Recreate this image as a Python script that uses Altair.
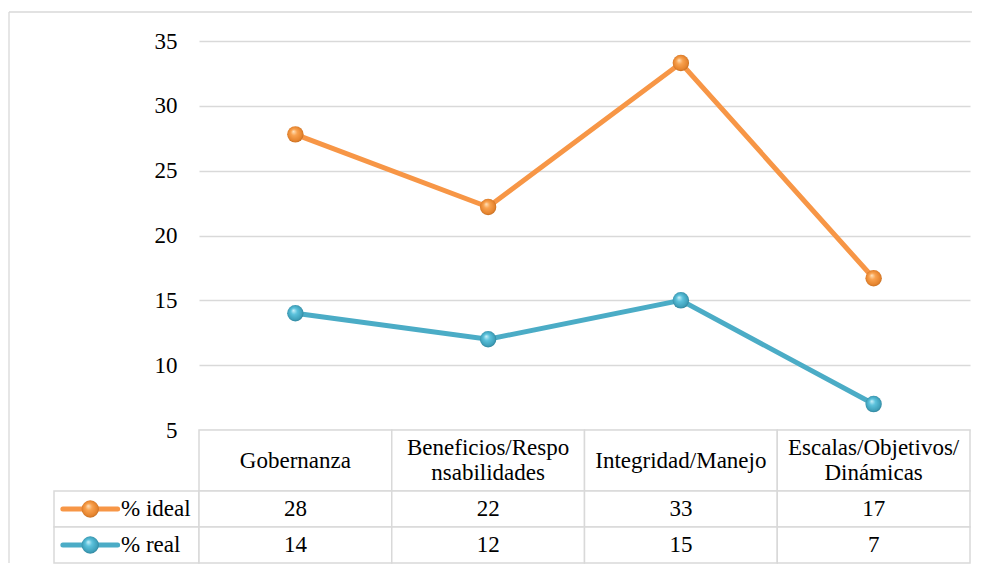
import altair as alt
import pandas as pd

# ---------------- data ----------------
categories = ["Gobernanza", "Beneficios/Responsabilidades", "Integridad/Manejo",
              "Escalas/Objetivos/Dinámicas"]
header_labels = ["Gobernanza", "Beneficios/Respo\nnsabilidades", "Integridad/Manejo",
                 "Escalas/Objetivos/\nDinámicas"]
series_names = ["% ideal", "% real"]
ideal_values = [27.8, 22.2, 33.3, 16.7]
real_values = [14, 12, 15, 7]
y_ticks = [5, 10, 15, 20, 25, 30, 35]
series_colors = ["#F79646", "#4BACC6"]
key_parts = ["key", "label"]

# ---------------- style ----------------
FONT = "Times New Roman, Liberation Serif, DejaVu Serif, serif"
FS = 23
GRID = "#D9D9D9"
PLOT_W, COL0_W = 771, 145
PLOT_H, HEAD_H, ROWS_H = 389, 61, 72

rows = []
for s, vals in zip(series_names, [ideal_values, real_values]):
    for c, v in zip(categories, vals):
        rows.append({"category": c, "series": s, "value": v})
long = pd.DataFrame(rows)
head_df = pd.DataFrame({"category": categories, "label": header_labels})
key_df = pd.DataFrame([{"series": s, "part": p} for s in series_names for p in key_parts])

grad = {
    "% ideal": {"gradient": "radial", "x1": 0.38, "y1": 0.32, "r1": 0.0,
                "x2": 0.5, "y2": 0.5, "r2": 0.55,
                "stops": [{"offset": 0, "color": "#FFE3BF"},
                          {"offset": 0.35, "color": "#F9A24F"},
                          {"offset": 0.8, "color": "#E5832D"},
                          {"offset": 1, "color": "#B0621E"}]},
    "% real": {"gradient": "radial", "x1": 0.38, "y1": 0.32, "r1": 0.0,
               "x2": 0.5, "y2": 0.5, "r2": 0.55,
               "stops": [{"offset": 0, "color": "#CDF2FB"},
                         {"offset": 0.35, "color": "#5CC2DC"},
                         {"offset": 0.8, "color": "#3E9FB9"},
                         {"offset": 1, "color": "#27738A"}]},
}

color_enc = alt.Color("series:N", scale=alt.Scale(domain=series_names, range=series_colors),
                      legend=None)

# ---------------- line chart ----------------
xpt = alt.X("category:N", scale=alt.Scale(type="point", domain=categories, padding=0.5),
            axis=None)
yv = alt.Y("value:Q", scale=alt.Scale(domain=[5, 35], nice=False, zero=False),
           axis=alt.Axis(values=y_ticks, title=None, domain=False, ticks=False,
                         labelFont=FONT, labelFontSize=FS, labelColor="black",
                         labelPadding=22, grid=True, gridColor=GRID, gridWidth=1.5))
base = alt.Chart(long).encode(x=xpt, y=yv)
lines = base.mark_line(strokeWidth=5).encode(color=color_enc)
balls = [
    base.transform_filter(alt.datum.series == s).mark_point(
        filled=True, size=270, fill=grad[s], opacity=1, strokeWidth=0)
    for s in series_names
]
line_chart = alt.layer(lines, *balls).properties(width=PLOT_W, height=PLOT_H)

# ---------------- frame / spacers ----------------
one = pd.DataFrame({"v": [0]})
frame_top = alt.Chart(one).mark_rule(color=GRID, strokeWidth=1.3).encode(
    x=alt.value(-45), x2=alt.value(918), y=alt.value(-29))
frame_left = alt.Chart(one).mark_rule(color=GRID, strokeWidth=1.3).encode(
    x=alt.value(-45), y=alt.value(-29), y2=alt.value(522))
spacer1 = alt.layer(frame_top, frame_left).properties(width=COL0_W, height=PLOT_H)
spacer2 = alt.Chart(one).mark_point(opacity=0).encode(
    x=alt.value(0), y=alt.value(0)).properties(width=COL0_W, height=HEAD_H)

# ---------------- header row ----------------
xband = alt.X("category:N", scale=alt.Scale(type="band", domain=categories,
                                            paddingInner=0, paddingOuter=0), axis=None)
hbase = alt.Chart(head_df).encode(x=xband)
htext = dict(font=FONT, fontSize=FS, color="black", lineBreak="\n", lineHeight=25,
             baseline="middle")
header = alt.layer(
    hbase.mark_rect(fill="white", stroke=GRID, strokeWidth=1.5),
    hbase.transform_filter("indexof(datum.label, '\\n') < 0").mark_text(**htext
        ).encode(text="label:N"),
    hbase.transform_filter("indexof(datum.label, '\\n') >= 0").mark_text(dy=-12.5, **htext
        ).encode(text="label:N"),
).properties(width=PLOT_W, height=HEAD_H)

# ---------------- value rows ----------------
yband = alt.Y("series:N", scale=alt.Scale(type="band", domain=series_names,
                                          paddingInner=0, paddingOuter=0), axis=None)
rbase = alt.Chart(long).encode(x=xband, y=yband)
rows_chart = alt.layer(
    rbase.mark_rect(fill="white", stroke=GRID, strokeWidth=1.5),
    rbase.mark_text(font=FONT, fontSize=FS, color="black").encode(
        text=alt.Text("value:Q", format=".0f")),
).properties(width=PLOT_W, height=ROWS_H)

# ---------------- legend keys column ----------------
xkey = alt.X("part:N", scale=alt.Scale(type="band", domain=key_parts,
                                       paddingInner=0, paddingOuter=0), axis=None)
kbase = alt.Chart(key_df).encode(y=yband)
kkey = kbase.transform_filter(alt.datum.part == "key").encode(x=xkey)
legend_col = alt.layer(
    kbase.transform_filter(alt.datum.part == "key").mark_rect(
        fill="white", stroke=GRID, strokeWidth=1.5),
    kkey.mark_point(shape="stroke", size=3000, strokeWidth=5, strokeCap="round",
                    filled=False, opacity=1).encode(color=color_enc),
    *[kkey.transform_filter(alt.datum.series == s).mark_point(
        filled=True, size=300, fill=grad[s], opacity=1, strokeWidth=0)
      for s in series_names],
    kbase.transform_filter(alt.datum.part == "label").mark_text(
        font=FONT, fontSize=FS, color="black", align="left", dx=-5.5
    ).encode(x=alt.X("part:N", scale=alt.Scale(type="band", domain=key_parts,
                                               paddingInner=0, paddingOuter=0),
                     bandPosition=0, axis=None),
             text="series:N"),
).properties(width=COL0_W, height=ROWS_H)

chart = alt.concat(
    spacer1, line_chart, spacer2, header, legend_col, rows_chart,
    columns=2, spacing=0, bounds="flush", align="each",
).properties(
    padding={"left": 0, "top": 3, "right": 0, "bottom": 0},
    background="white",
).configure_view(stroke=None)

chart.save("out.html", embed_options={"renderer": "svg", "actions": False})
